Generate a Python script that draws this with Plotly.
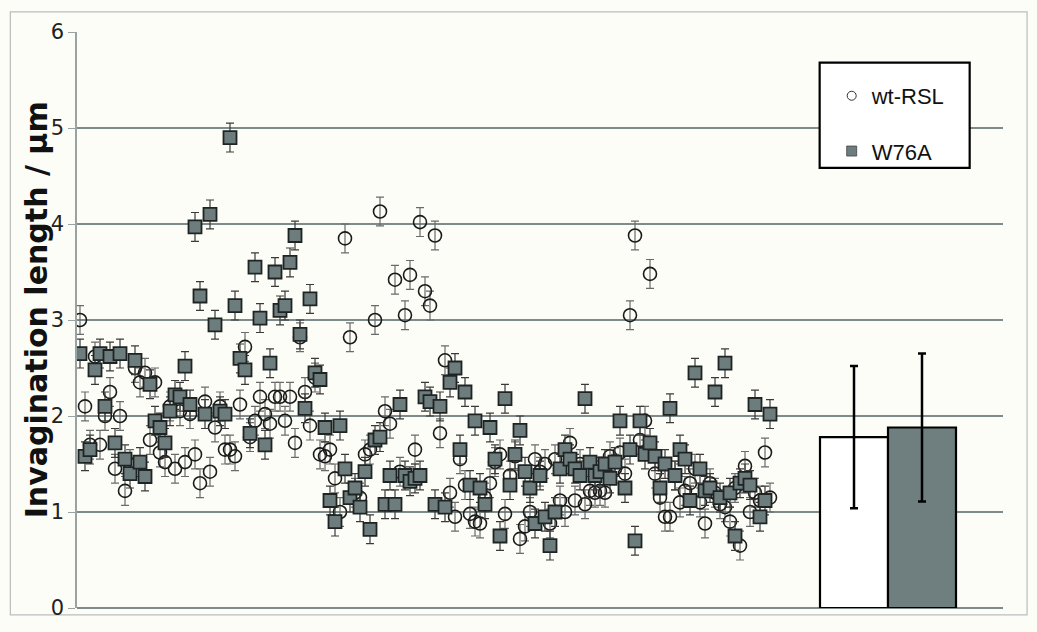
import plotly.graph_objects as go

# wt-RSL individual measurements (µm), in order along the x axis
wt_rsl = [3.0, 2.1, 1.7, 2.62, 1.7, 2.0, 2.25, 1.45, 2.0, 1.22, 1.5, 2.5, 2.35, 2.45, 1.75,
          2.35, 1.62, 1.52, 2.1, 1.45, 2.05, 1.52, 2.02, 1.6, 1.3, 2.15, 1.42, 1.88, 2.1, 1.65,
          1.65, 1.58, 2.12, 2.72, 1.78, 1.95, 2.2, 2.02, 1.92, 2.2, 2.2, 1.95, 2.2, 1.72, 2.82,
          2.25, 1.9, 2.4, 1.6, 1.58, 1.65, 1.35, 1.0, 3.85, 2.82, 1.2, 1.15, 1.6, 1.65, 3.0,
          4.13, 2.05, 1.92, 3.42, 1.42, 3.05, 3.47, 1.65, 4.02, 3.3, 3.15, 3.88, 1.82, 2.58, 1.2,
          0.95, 1.55, 1.28, 0.98, 0.9, 0.88, 1.15, 1.3, 1.52, 1.6, 0.98, 1.38, 1.58, 0.72, 0.85,
          1.0, 1.55, 1.42, 1.5, 0.88, 1.55, 1.12, 1.0, 1.72, 1.12, 1.5, 1.08, 1.22, 1.2, 1.22,
          1.2, 1.58, 1.45, 1.62, 1.4, 3.05, 3.88, 1.75, 1.95, 3.48, 1.4, 1.15, 0.95, 0.95, 1.38,
          1.1, 1.22, 1.3, 1.45, 1.1, 0.88, 1.3, 1.2, 1.08, 1.05, 0.9, 1.25, 0.65, 1.48, 1.0,
          1.2, 1.12, 1.62, 1.15]

# W76A individual measurements (µm)
w76a = [2.65, 1.58, 1.65, 2.48, 2.65, 2.1, 2.62, 1.72, 2.65, 1.55, 1.4, 2.58, 1.52, 1.37, 2.33,
        1.95, 1.88, 1.72, 2.05, 2.22, 2.2, 2.52, 2.12, 3.97, 3.25, 2.02, 4.1, 2.95, 2.05, 2.02,
        4.9, 3.15, 2.6, 2.48, 1.82, 3.55, 3.02, 1.7, 2.55, 3.5, 3.1, 3.15, 3.6, 3.88, 2.85,
        2.08, 3.22, 2.45, 2.38, 1.88, 1.12, 0.9, 1.9, 1.45, 1.15, 1.25, 1.05, 1.42, 0.82, 1.75,
        1.78, 1.08, 1.38, 1.08, 2.12, 1.38, 1.32, 1.35, 1.38, 2.2, 2.15, 1.08, 2.1, 1.05, 2.35,
        2.5, 1.65, 2.25, 1.28, 1.95, 1.25, 1.08, 1.88, 1.55, 0.75, 2.18, 1.28, 1.6, 1.85, 1.42,
        1.25, 0.88, 1.38, 0.95, 0.65, 1.0, 1.45, 1.65, 1.55, 1.45, 1.38, 2.18, 1.52, 1.38, 1.42,
        1.5, 1.35, 1.52, 1.95, 1.25, 1.65, 0.7, 1.95, 1.6, 1.72, 1.58, 1.25, 1.5, 2.08, 1.38,
        1.65, 1.55, 1.12, 2.45, 1.45, 1.22, 1.25, 2.25, 1.15, 2.55, 1.2, 0.75, 1.3, 1.35, 1.28,
        2.12, 0.95, 1.12, 2.02]

point_err = 0.15  # error of each measurement (µm)

# Means and standard deviations
groups = ["wt-RSL", "W76A"]
means = [1.78, 1.88]
sds = [0.74, 0.77]
bar_x = [155.8, 169.4]
y_title = "Invagination length / µm"

fig = go.Figure()

fig.add_trace(go.Scatter(
    x=list(range(1, len(wt_rsl) + 1)), y=wt_rsl, mode="markers", showlegend=False,
    marker=dict(symbol="circle-open", size=13, color="#1a1a1a", line=dict(width=1.6, color="#1a1a1a")),
    error_y=dict(type="constant", value=point_err, color="#6a6a6a", thickness=1.2, width=4),
))
fig.add_trace(go.Scatter(
    x=list(range(1, len(w76a) + 1)), y=w76a, mode="markers", showlegend=False,
    marker=dict(symbol="square", size=13, color="#6d7d7e", line=dict(width=1.8, color="#1e2424")),
    error_y=dict(type="constant", value=point_err, color="#3a3a3a", thickness=1.2, width=4),
))

bar_colors = ["#ffffff", "#6f7f7f"]
for i in range(2):
    fig.add_trace(go.Bar(
        x=[bar_x[i]], y=[means[i]], width=13.6, showlegend=False,
        marker=dict(color=bar_colors[i], line=dict(color="#000000", width=2.2)),
        error_y=dict(type="data", array=[sds[i]], color="#000000", thickness=2.5, width=4),
    ))

# legend-only entries
fig.add_trace(go.Scatter(x=[None], y=[None], mode="markers", name=groups[0], legend="legend",
                         marker=dict(symbol="circle-open", size=9, color="#333",
                                     line=dict(width=1, color="#333"))))
fig.add_trace(go.Scatter(x=[None], y=[None], mode="markers", name=groups[1], legend="legend2",
                         marker=dict(symbol="square", size=10, color="#6d7d7e",
                                     line=dict(width=0.8, color="#444"))))

bg = "#fdfdf7"
grid = "#7f8b8b"

fig.update_layout(
    width=1037, height=632,
    paper_bgcolor=bg, plot_bgcolor=bg,
    margin=dict(l=77, r=34, t=32, b=17),
    font=dict(family="Liberation Sans, Arial, sans-serif", color="#111"),
    barmode="overlay",
    showlegend=True,
    legend=dict(x=0.815, y=0.889, xanchor="left", yanchor="middle", bgcolor="rgba(0,0,0,0)",
                font=dict(size=22, color="#111"), itemwidth=30),
    legend2=dict(x=0.815, y=0.793, xanchor="left", yanchor="middle", bgcolor="rgba(0,0,0,0)",
                 font=dict(size=22, color="#111"), itemwidth=30),
    shapes=[
        dict(type="rect", xref="paper", yref="paper", x0=0.802, x1=0.964, y0=0.764, y1=0.947,
             fillcolor="#ffffff", line=dict(color="#000", width=2.2), layer="above"),
        dict(type="rect", xref="paper", yref="paper", x0=-0.072, x1=1.026, y0=-0.012, y1=1.035,
             fillcolor="rgba(0,0,0,0)", line=dict(color="#b9bdbd", width=1.2), layer="below"),
    ],
    annotations=[
        dict(text=y_title, xref="paper", yref="paper", x=-0.0435, y=0.518, textangle=-90,
             xanchor="center", yanchor="middle", showarrow=False,
             font=dict(size=30, color="#111", family="DejaVu Sans, sans-serif",
                       weight="bold")),
    ],
)

fig.update_xaxes(range=[0.4, 185.6], showticklabels=False, ticks="", showgrid=False,
                 zeroline=False, showline=False)
fig.update_yaxes(range=[0, 6], dtick=1, showgrid=True, gridcolor=grid, gridwidth=2.2,
                 zeroline=True, zerolinecolor=grid, zerolinewidth=2.2,
                 showline=True, linecolor="#9aa3a3", linewidth=1.5,
                 ticks="outside", ticklen=7, tickcolor="#9aa3a3", tickwidth=1.2,
                 tickfont=dict(size=21, color="#222", family="DejaVu Sans, sans-serif"))

fig.write_html("out.html", config={"displayModeBar": False},
               post_script="document.body.style.margin='0';")
